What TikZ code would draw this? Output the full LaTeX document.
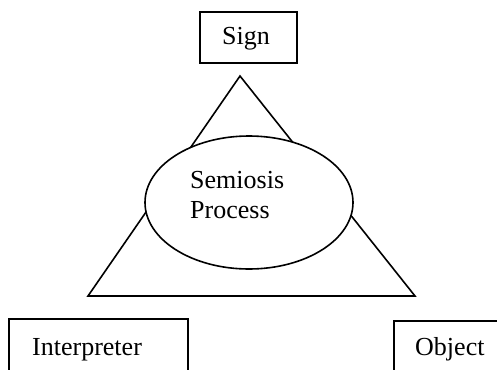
\documentclass[tikz,border=0pt]{standalone}
\usepackage{fontspec}
\setmainfont{Liberation Serif}
\usetikzlibrary{shapes.geometric}
\begin{document}
\begin{tikzpicture}[x=1pt,y=-1pt,
  line/.style={line width=1.6pt,black},
  lbl/.style={anchor=base west,inner sep=0pt,font=\fontsize{26}{30}\selectfont}]
\useasboundingbox (0,0) rectangle (497,369);
\clip (0,0) rectangle (497,369);
% triangle
\coordinate (apex) at (240,76);
\coordinate (bl) at (88,296);
\coordinate (br) at (415,296);
\draw[line,line join=miter] (apex) -- (bl) -- (br) -- cycle;
% ellipse
\node[ellipse,draw,line width=1.6pt,fill=white,minimum width=208pt,minimum height=133pt,inner sep=0pt] (proc) at (249,202.5) {};
% boxes
\draw[line] (200,12) rectangle (297,63);
\draw[line] (9,319) rectangle (188,380);
\draw[line] (394,321) rectangle (510,380);
% labels
\node[lbl] (sign) at (222,45) {Sign};
\node[lbl] (semiosis) at (190,188) {Semiosis};
\node[lbl] (process) at (190,218) {Process};
\node[lbl] (interp) at (32,355) {Interpreter};
\node[lbl] (object) at (415,355) {Object};
\end{tikzpicture}
\end{document}
